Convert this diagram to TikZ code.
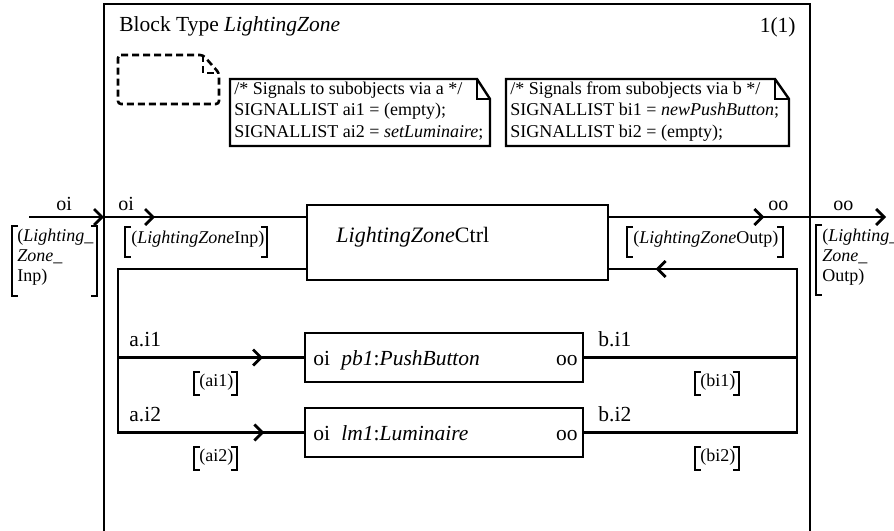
\documentclass[tikz,border=0pt]{standalone}
\usepackage{fontspec}
\setmainfont{Liberation Serif}
\usetikzlibrary{arrows.meta,decorations.markings,calc}

% square bracket pair around a channel signal list
\newcommand\sigbrk[4]{%
  \draw ({#1+6},#3) -- (#1,#3) -- (#1,#4) -- ({#1+6},#4);
  \draw ({#2-6},#3) -- (#2,#3) -- (#2,#4) -- ({#2-6},#4);}

\begin{document}
\begin{tikzpicture}[x=1pt,y=-1pt,line width=2.8pt,
  barb/.tip={Straight Barb[length=8pt,width=16pt]},
  midarrow/.style={postaction={decorate},
    decoration={markings,mark=at position #1 with {\arrow{barb}}}},
  lbl/.style={inner sep=0pt,anchor=base west,font=\fontsize{20}{24}\selectfont},
  big/.style={inner sep=0pt,anchor=base west,font=\fontsize{21.5}{25}\selectfont},
  sml/.style={inner sep=0pt,anchor=base west,font=\fontsize{18}{21}\selectfont},
  procbox/.style={draw,rectangle,inner sep=0pt},
  notebox/.style={line width=2.4pt}]
\useasboundingbox (0,0) rectangle (894,530);
\clip (0,0) rectangle (894,530);
\fill[white] (0,0) rectangle (894,530);

% block frame
\draw (104,4) rectangle (810,600);
\node[big] (title) at (118,31) {Block Type \textit{LightingZone}};
\node[big,anchor=base east] (page) at (797,32) {1(1)};

% dashed package symbol
\draw[line width=2.6pt,dash pattern=on 7pt off 4pt,rounded corners=3pt]
  (118,55) -- (203,55) -- (219,73) -- (219,104) -- (118,104) -- cycle;
\draw[line width=2.6pt,dash pattern=on 7pt off 4pt] (203,55) -- (203,73) -- (219,73);

% text symbols
\draw[notebox] (230,79) -- (477,79) -- (490,99) -- (490,146) -- (230,146) -- cycle;
\draw[notebox] (477,79) -- (477,99) -- (490,99);
\node[sml] (na1) at (233,94) {/* Signals to subobjects via a */};
\node[sml] (na2) at (233,115) {SIGNALLIST ai1 = (empty);};
\node[sml] (na3) at (233,137) {SIGNALLIST ai2 = \textit{setLuminaire};};

\draw[notebox] (506,79) -- (775,79) -- (789,99) -- (789,146) -- (506,146) -- cycle;
\draw[notebox] (775,79) -- (775,99) -- (789,99);
\node[sml] (nb1) at (509,94) {/* Signals from subobjects via b */};
\node[sml] (nb2) at (509,115) {SIGNALLIST bi1 = \textit{newPushButton};};
\node[sml] (nb3) at (509,137) {SIGNALLIST bi2 = (empty);};

% processes
\node[procbox,minimum width=301pt,minimum height=75pt] (ctrl) at (457.5,242.5) {};
\node[big,font=\fontsize{22}{26}\selectfont] (ctrltxt) at (335,242) {\textit{LightingZone}Ctrl};

\node[procbox,minimum width=278pt,minimum height=49pt] (pb1) at (444,357.5) {};
\node[big] (pb1in) at (312,365) {oi};
\node[big] (pb1txt) at (340,365) {\textit{pb1}:\textit{PushButton}};
\node[big,anchor=base east] (pb1out) at (579,365) {oo};

\node[procbox,minimum width=278pt,minimum height=49pt] (lm1) at (444,432.5) {};
\node[big] (lm1in) at (312,440) {oi};
\node[big] (lm1txt) at (340,440) {\textit{lm1}:\textit{Luminaire}};
\node[big,anchor=base east] (lm1out) at (579,440) {oo};

% connection points
\coordinate (envin) at (29,217);
\coordinate (fin) at (104,217);
\coordinate (fout) at (810,217);
\coordinate (envout) at (886,217);
\coordinate (cl) at (118,269);
\coordinate (cr) at (797,269);

% channels
\draw[-barb] (envin) -- (fin);
\draw[midarrow=51pt] (fin) -- (ctrl.west |- fin);
\draw[midarrow=155pt] (ctrl.east |- fin) -- (fout);
\draw[-barb] (fout) -- (envout);

\draw[midarrow=497.5pt] (ctrl.west |- cl) -- (cl) -- (cl |- lm1.west) -- (lm1.west);
\draw[midarrow=145pt] (cl |- pb1.west) -- (pb1.west);
\draw[midarrow=517.5pt] (lm1.east) -- (cr |- lm1.east) -- (cr) -- (ctrl.east |- cr);
\draw (pb1.east) -- (cr |- pb1.east);

% gate and channel names
\node[lbl] (goiout) at (55,210) {oi};
\node[lbl] (goiin) at (117,210) {oi};
\node[lbl] (gooin) at (767,210) {oo};
\node[lbl] (gooout) at (832,210) {oo};
\node[big] (ai1) at (128,346) {a.i1};
\node[big] (ai2) at (128,421) {a.i2};
\node[big] (bi1) at (597,346) {b.i1};
\node[big] (bi2) at (597,421) {b.i2};

% signal lists
\sigbrk{12}{97}{226}{296}
\node[sml] (sl1a) at (16,241) {(\textit{Lighting\_}};
\node[sml] (sl1b) at (16,261) {\textit{Zone\_}};
\node[sml] (sl1c) at (16,281) {Inp)};

\sigbrk{125}{267}{227}{257}
\node[sml] (sl2) at (130,243) {(\textit{LightingZone}Inp)};

\sigbrk{627}{783}{227}{257}
\node[sml] (sl3) at (632,243) {(\textit{LightingZone}Outp)};

\draw ({816+6},225) -- (816,225) -- (816,295) -- ({816+6},295);
\node[sml] (sl4a) at (821,241) {(\textit{Lighting\_}};
\node[sml] (sl4b) at (821,261) {\textit{Zone\_}};
\node[sml] (sl4c) at (821,281) {Outp)};

\sigbrk{194}{237}{372}{395}
\node[sml] (sl5) at (198,386) {(ai1)};
\sigbrk{194}{237}{447}{470}
\node[sml] (sl6) at (198,461) {(ai2)};
\sigbrk{695}{739}{372}{395}
\node[sml] (sl7) at (699,386) {(bi1)};
\sigbrk{695}{739}{447}{470}
\node[sml] (sl8) at (699,461) {(bi2)};
\end{tikzpicture}
\end{document}
